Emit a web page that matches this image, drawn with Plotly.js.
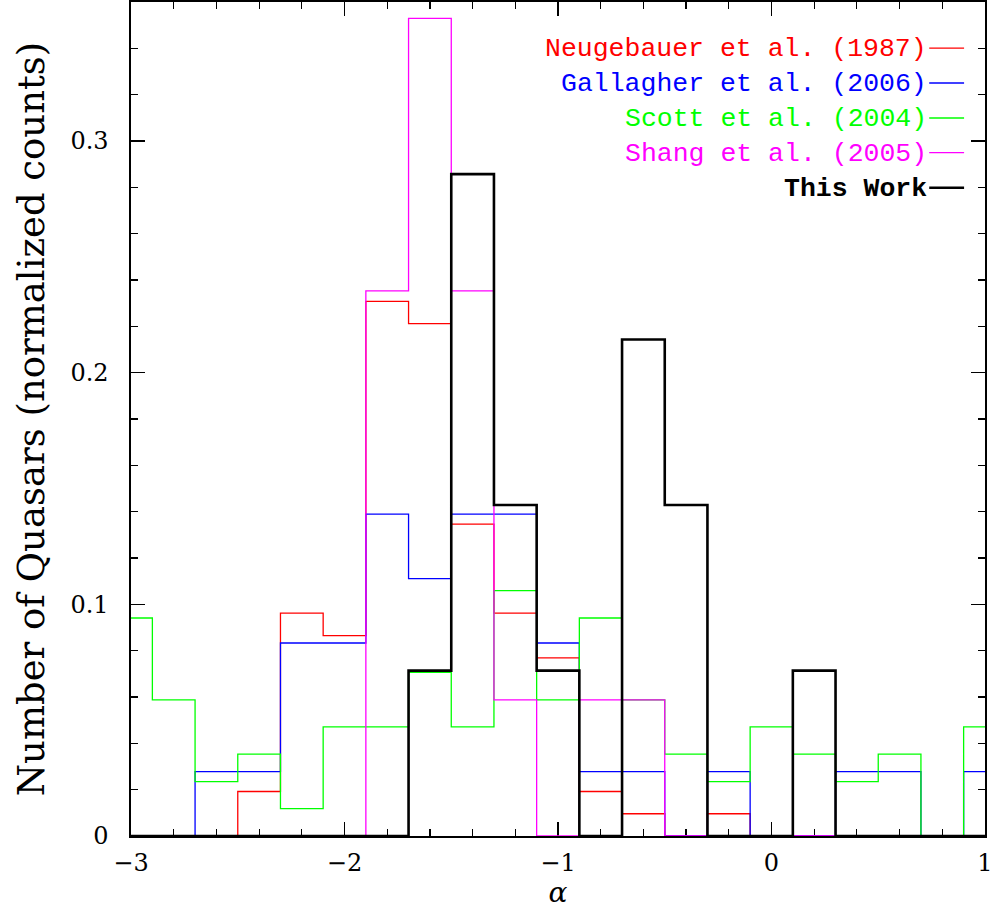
<!DOCTYPE html>
<html>
<head>
<meta charset="utf-8">
<script src="https://cdn.plot.ly/plotly-3.0.1.min.js"></script>
<style>html,body{margin:0;padding:0;background:#fff;}#chart{width:994px;height:909px;}</style>
</head>
<body>
<div id="chart"></div>
<script>
// Bin centres of the spectral index alpha (bin width 0.2)
const alphaBins = [-3.0, -2.8, -2.6, -2.4, -2.2, -2.0, -1.8, -1.6, -1.4, -1.2, -1.0,
                   -0.8, -0.6, -0.4, -0.2, 0.0, 0.2, 0.4, 0.6, 0.8, 1.0];

// Normalized counts per bin
const neugebauer = [0, 0, 0, 0.0192, 0.0962, 0.0865, 0.2308, 0.2212, 0.1346, 0.0962, 0.0769,
                    0.0192, 0.0096, 0, 0.0096, 0, 0, 0, 0, 0, 0];
const gallagher  = [0, 0, 0.0278, 0.0278, 0.0833, 0.0833, 0.1389, 0.1111, 0.1389, 0.1389, 0.0833,
                    0.0278, 0.0278, 0, 0.0278, 0, 0, 0.0278, 0.0278, 0, 0.0278];
const scott      = [0.0941, 0.0588, 0.0235, 0.0353, 0.0118, 0.0471, 0.0471, 0.0706, 0.0471, 0.1059, 0.0588,
                    0.0941, 0.0588, 0.0353, 0.0235, 0.0471, 0.0353, 0.0235, 0.0353, 0, 0.0471];
const shang      = [0, 0, 0, 0, 0, 0, 0.2353, 0.3529, 0.2353, 0.0588, 0,
                    0.0588, 0.0588, 0, 0, 0, 0, 0, 0, 0, 0];
const thisWork   = [0, 0, 0, 0, 0, 0, 0, 0.0714, 0.2857, 0.1429, 0.0714,
                    0, 0.2143, 0.1429, 0, 0, 0.0714, 0, 0, 0, 0];

const seriesNames  = ["Neugebauer et al. (1987)", "Gallagher et al. (2006)", "Scott et al. (2004)", "Shang et al. (2005)", "This Work"];
const seriesValues = [neugebauer, gallagher, scott, shang, thisWork];
const seriesColors = ["#ff0000", "#0000ff", "#00ff00", "#ff00ff", "#000000"];
const seriesWidths = [1.3, 1.3, 1.3, 1.3, 2.6];

const xTickVals = [-3, -2, -1, 0, 1];
const xTickText = ["\u22123", "\u22122", "\u22121", "0", "1"];
const yTickVals = [0, 0.1, 0.2, 0.3];
const yTickText = ["0", "0.1", "0.2", "0.3"];

const traces = seriesNames.map((name, i) => ({
  type: "scatter",
  mode: "lines",
  name: name,
  x: alphaBins,
  y: seriesValues[i],
  line: {shape: "hvh", color: seriesColors[i], width: seriesWidths[i]},
  showlegend: false,
  hoverinfo: "x+y+name"
}));

// Legend: text right-aligned, followed by a short line sample
const legX = 0.9347, legX2 = 0.9755;
const legY = [0.9448, 0.9029, 0.8609, 0.8193, 0.7773];
const annotations = seriesNames.map((name, i) => ({
  xref: "paper", yref: "paper", x: legX, y: legY[i],
  xanchor: "right", yanchor: "middle", showarrow: false,
  text: i === 4 ? "<b>" + name + "</b>" : name,
  yshift: -1,
  font: {family: "Liberation Mono, DejaVu Sans Mono, monospace", size: 26.5, color: seriesColors[i]}
}));
const shapes = seriesNames.map((name, i) => ({
  type: "line", xref: "paper", yref: "paper",
  x0: legX, x1: legX2, y0: legY[i], y1: legY[i],
  line: {color: seriesColors[i], width: i === 4 ? 2.6 : 1.3}
}));

const tickFont = {family: "DejaVu Serif, Liberation Serif, serif", size: 24, color: "#000"};

const layout = {
  width: 994, height: 909,
  margin: {l: 131, r: 9, t: 2, b: 73},
  paper_bgcolor: "#fff", plot_bgcolor: "#fff",
  showlegend: false,
  xaxis: {
    range: [-3.0001, 1.0001], tickvals: xTickVals, ticktext: xTickText,
    ticks: "inside", ticklen: 14, tickwidth: 1.2, tickcolor: "#000",
    minor: {dtick: 0.2, tick0: 0, ticks: "inside", ticklen: 7, tickwidth: 1.2, tickcolor: "#000", showgrid: false},
    showline: true, linecolor: "#000", linewidth: 1.6, mirror: "allticks",
    showgrid: false, zeroline: false, layer: "below traces",
    tickfont: tickFont, ticklabelstandoff: 5, ticklabeloverflow: "allow",
    title: {text: "<i>\u03b1</i>", font: {family: "DejaVu Serif, serif", size: 28, color: "#000"}, standoff: 16}
  },
  yaxis: {
    range: [0, 0.36], tickvals: yTickVals, ticktext: yTickText,
    ticks: "inside", ticklen: 14, tickwidth: 1.2, tickcolor: "#000",
    minor: {dtick: 0.02, tick0: 0, ticks: "inside", ticklen: 7, tickwidth: 1.2, tickcolor: "#000", showgrid: false},
    showline: true, linecolor: "#000", linewidth: 1.6, mirror: "allticks",
    showgrid: false, zeroline: false, layer: "below traces",
    tickfont: tickFont, ticklabelstandoff: 16,
    title: {text: "Number of Quasars (normalized counts)", font: {family: "DejaVu Serif, serif", size: 37, color: "#000"}, standoff: 14}
  },
  annotations: annotations,
  shapes: shapes
};

Plotly.newPlot("chart", traces, layout, {displayModeBar: false, staticPlot: true});
</script>
</body>
</html>
